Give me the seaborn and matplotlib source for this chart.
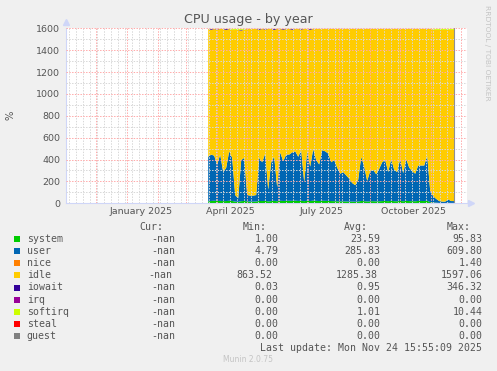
import pandas as pd
import seaborn as sns
import matplotlib.pyplot as plt
import matplotlib.dates as mdates
from matplotlib.patches import Rectangle
from matplotlib.ticker import MultipleLocator, NullFormatter

# legend rows (munin cpu plugin)
names = ['system', 'user', 'nice', 'idle', 'iowait', 'irq', 'softirq', 'steal', 'guest']
colors = ['#00CC00', '#0066B3', '#FF8000', '#FFCC00', '#330099',
          '#990099', '#CCFF00', '#FF0000', '#808080']
cur = ['-nan', '-nan', '-nan', '-nan', '-nan', '-nan', '-nan', '-nan', '-nan']
mins = ['1.00', '4.79', '0.00', '863.52', '0.03', '0.00', '0.00', '0.00', '0.00']
avgs = ['23.59', '285.83', '0.00', '1285.38', '0.95', '0.00', '1.01', '0.00', '0.00']
maxs = ['95.83', '609.80', '1.40', '1597.06', '346.32', '0.00', '10.44', '0.00', '0.00']

# samples every 3 days from 2025-03-23 (%)
system = [22, 26, 28, 25, 27, 24, 25, 28, 26, 20,
          18, 24, 26, 22, 20, 20, 21, 26, 25, 27,
          22, 25, 27, 23, 28, 26, 27, 28, 27, 29,
          26, 28, 24, 28, 25, 29, 27, 25, 28, 27,
          26, 25, 24, 23, 22, 22, 21, 20, 20, 19,
          20, 26, 24, 21, 23, 24, 22, 23, 25, 26,
          24, 27, 24, 23, 27, 23, 27, 25, 24, 23,
          26, 26, 25, 28, 15, 12, 10, 8, 7, 7,
          9, 8, 8]
user = [408, 424, 412, 335, 423, 266, 305, 452, 394, 60,
        32, 376, 394, 58, 55, 55, 59, 394, 355, 433,
        108, 355, 403, 127, 442, 364, 423, 422, 443, 451,
        404, 462, 176, 452, 315, 471, 373, 335, 462, 453,
        434, 355, 376, 307, 253, 268, 239, 210, 170, 151,
        200, 404, 316, 189, 277, 286, 248, 297, 355, 374,
        266, 383, 286, 267, 383, 257, 383, 305, 276, 252,
        324, 324, 325, 412, 105, 58, 35, 17, 13, 13,
        31, 17, 17]
iowait = [1, 8, 1, 6, 1, 1, 9, 1, 1, 1,
          1, 7, 1, 1, 1, 1, 1, 8, 1, 6,
          1, 1, 9, 1, 1, 7, 1, 1, 8, 1,
          1, 6, 1, 1, 8, 1, 1, 1, 1, 1,
          1, 1, 1, 1, 1, 1, 1, 1, 1, 1,
          1, 1, 1, 1, 1, 1, 1, 1, 1, 1,
          1, 1, 1, 1, 1, 1, 1, 1, 1, 1,
          1, 1, 1, 1, 1, 1, 1, 1, 1, 1,
          1, 1, 1]
softirq = [1, 1, 1, 1, 1, 1, 1, 1, 9, 10,
           10, 9, 8, 1, 1, 1, 1, 1, 1, 1,
           1, 1, 1, 1, 1, 1, 1, 1, 1, 1,
           1, 1, 1, 1, 1, 1, 1, 1, 1, 1,
           1, 1, 1, 1, 1, 1, 1, 1, 1, 1,
           1, 1, 1, 1, 1, 1, 1, 1, 1, 1,
           1, 1, 1, 1, 1, 1, 1, 1, 1, 1,
           1, 1, 1, 1, 1, 8, 9, 10, 10, 10,
           9, 10, 10]
nice = [0] * len(system)
irq = [0] * len(system)
steal = [0] * len(system)
guest = [0] * len(system)
total = 1600  # 16 cores, stack always reaches the top

dates = pd.date_range('2025-03-23', periods=len(system), freq='3D')
idle = [total - s - u - n - w - q for s, u, n, w, q in zip(system, user, nice, iowait, softirq)]

sns.set_theme(style='white')
plt.rcParams['font.family'] = ['DejaVu Sans']

W, H = 497, 371
fig = plt.figure(figsize=(W / 100, H / 100), dpi=100, facecolor='#F0F0F0')
ax = fig.add_axes([66 / W, 1 - 203.3 / H, (467 - 66) / W, (203.3 - 28.3) / H])
ax.set_facecolor('white')

ax.stackplot(dates, system, user, nice, idle, iowait, irq, softirq, steal, guest,
             colors=colors, linewidth=0)
ax.axvline(dates[-1], color='#909090', lw=0.8, zorder=3)

jan1 = pd.Timestamp('2025-01-01')
ax.set_xlim(jan1 - pd.Timedelta(days=60.7), jan1 + pd.Timedelta(days=340.3))
ax.set_ylim(0, 1600)

# grid: months / weeks, 200 / 100
ax.xaxis.set_major_locator(mdates.MonthLocator())
ax.xaxis.set_minor_locator(mdates.WeekdayLocator(byweekday=mdates.MO))
ax.xaxis.set_major_formatter(NullFormatter())
ax.yaxis.set_major_locator(MultipleLocator(200))
ax.yaxis.set_minor_locator(MultipleLocator(100))
ax.set_axisbelow(False)
ax.grid(which='minor', color='#d8d8d8', lw=0.72, ls=(0, (1.4, 1.4)))
ax.grid(which='major', color='#ffaaaa', lw=0.72, ls=(0, (1.4, 1.4)))
ax.tick_params(axis='x', which='major', length=2, color='#ffaaaa', direction='out')
ax.tick_params(axis='x', which='minor', length=2, color='#d8d8d8', direction='out')
ax.tick_params(axis='y', which='major', length=1.5, color='#ffaaaa', direction='out',
               pad=2.8, labelsize=6.8, labelcolor='#555555')
ax.tick_params(axis='y', which='minor', length=1.5, color='#d8d8d8', direction='out')

for side in ['top', 'right']:
    ax.spines[side].set_visible(False)
for side in ['left', 'bottom']:
    ax.spines[side].set_color('#CFD6F8')
    ax.spines[side].set_linewidth(0.8)
ax.plot([0], [1.035], marker='^', color='#CFD6F8', ms=4, transform=ax.transAxes, clip_on=False)
ax.plot([1.009], [0], marker='>', color='#CFD6F8', ms=4, transform=ax.transAxes, clip_on=False)

# quarter labels sit mid-month
sec = ax.secondary_xaxis('bottom')
sec.set_xticks(pd.to_datetime(['2025-01-15', '2025-04-15', '2025-07-15', '2025-10-15']))
sec.set_xticklabels(['January 2025', 'April 2025', 'July 2025', 'October 2025'])
sec.tick_params(length=0, pad=3, labelsize=6.8, labelcolor='#555555')
sec.spines['bottom'].set_visible(False)

fig.text(0.5, 1 - 19.3 / H, 'CPU usage - by year', ha='center', va='center',
         fontsize=9.1, color='#555555')
fig.text(10 / W, 1 - 115 / H, '%', rotation=90, ha='center', va='center',
         fontsize=7.2, color='#555555')
fig.text(487 / W, 1 - 5 / H, 'RRDTOOL / TOBI OETIKER', rotation=270, ha='center', va='top',
         fontsize=5.4, color='#c4c4c4')
fig.text(248 / W, 1 - 360 / H, 'Munin 2.0.75', ha='center', va='center',
         fontsize=5.5, color='#c4c4c4')

# legend block
mono = dict(family='DejaVu Sans Mono', fontsize=7.1, color='#555555', va='center')
col_end = [175.7, 278.3, 380.3, 482.3]
idle_shift = [-3, -6, -3, 0]
for head, xe in zip(['Cur:', 'Min:', 'Avg:', 'Max:'], col_end):
    fig.text((xe - 12) / W, 1 - 227.3 / H, head, ha='right', **mono)
for i, name in enumerate(names):
    yc = 239.3 + 12.05 * i
    fig.add_artist(Rectangle((14 / W, 1 - (yc + 3) / H), 6 / W, 6 / H,
                             transform=fig.transFigure, color=colors[i], lw=0))
    fig.text(26.7 / W, 1 - yc / H, name, ha='left', **mono)
    for j, vals in enumerate([cur, mins, avgs, maxs]):
        dx = idle_shift[j] if name == 'idle' else 0
        fig.text((col_end[j] + dx) / W, 1 - yc / H, vals[i], ha='right', **mono)
fig.text(482.3 / W, 1 - 347.7 / H, 'Last update: Mon Nov 24 15:55:09 2025', ha='right', **mono)

fig.savefig('out.png', dpi=100, facecolor=fig.get_facecolor())
